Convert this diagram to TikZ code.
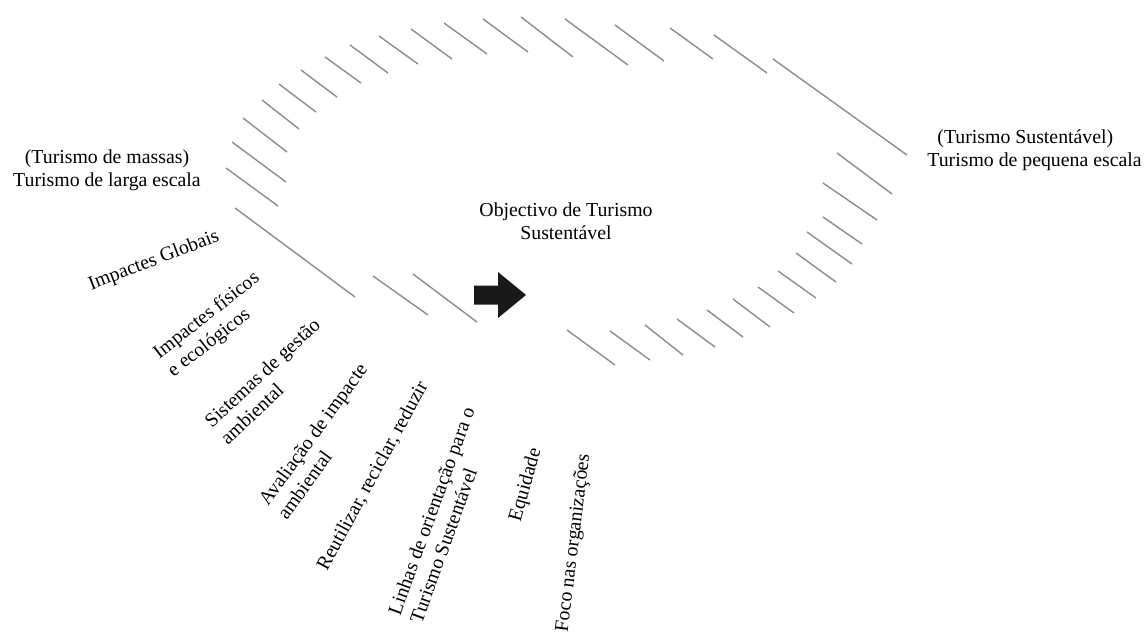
\documentclass[tikz,border=0pt]{standalone}
\usepackage{fontspec}
\setmainfont{Liberation Serif}
\begin{document}
\begin{tikzpicture}[x=0.5pt,y=-0.5pt,
  hatch/.style={draw=black!45, line width=0.7pt},
  lbl/.style={font=\fontsize{9.9}{11.6}\selectfont, inner sep=0pt, text=black},
  blockarrow/.style={fill=black!90, draw=none}]
\useasboundingbox (0,0) rectangle (1144,633);

% hatched outline of the sustainable-tourism field
\foreach \ax/\ay/\bx/\by in {
  235/208/355/297, 226/168/278/206, 232/142/286/182, 243/118/287/152,
  262/100/299/129, 279/84/316/112, 301/70/337/97, 325/57/361/83,
  350/45/388/73, 379/36/418/64, 411/29/452/59, 444/23/487/54,
  483/19/528/52, 521/17/573/57, 565/19/628/65, 615/25/664/61,
  670/28/713/59, 714/35/767/73, 773/59/907/155,
  837/153/892/194, 823/183/877/220, 823/217/862/244, 807/232/852/264,
  796/253/836/282, 778/271/816/298, 758/287/794/313, 733/299/770/327,
  707/310/743/337, 677/319/715/347, 645/325/683/355, 610/331/650/360,
  567/330/615/365, 373/276/428/315, 413/274/477/322}
  \draw[hatch] (\ax,\ay) -- (\bx,\by);

% end labels of the scale
\node[lbl, align=center] (massas) at (107,170)
  {(Turismo de massas)\\Turismo de larga escala};
\node[lbl, align=left, anchor=west] (pequena) at (927,150)
  {\hspace*{5pt}(Turismo Sustentável)\\Turismo de pequena escala};

% goal and direction
\node[lbl, align=center] (goal) at (566,221)
  {Objectivo de Turismo\\Sustentável};
\fill[blockarrow] (474,285.5) -- (498,285.5) -- (498,272) -- (526,295)
  -- (498,318) -- (498,304.5) -- (474,304.5) -- cycle;

% fan of approaches
\node[lbl, rotate=21] (globais) at (154,261) {Impactes Globais};
\node[lbl, rotate=38, align=left] (fisicos) at (214,325)
  {Impactes físicos\\e ecológicos};
\node[lbl, rotate=43, align=left] (gestao) at (270,381)
  {Sistemas de gestão\\ambiental};
\node[lbl, rotate=54, align=left] (avaliacao) at (322,441)
  {Avaliação de impacte\\ambiental};
\node[lbl, rotate=61.5] (reutilizar) at (373,476)
  {Reutilizar, reciclar, reduzir};
\node[lbl, rotate=70, align=left] (linhas) at (442,515)
  {Linhas de orientação para o\\Turismo Sustentável};
\node[lbl, rotate=74] (equidade) at (526,485) {Equidade};
\node[lbl, rotate=83] (foco) at (574,543) {Foco nas organizações};
\end{tikzpicture}
\end{document}
